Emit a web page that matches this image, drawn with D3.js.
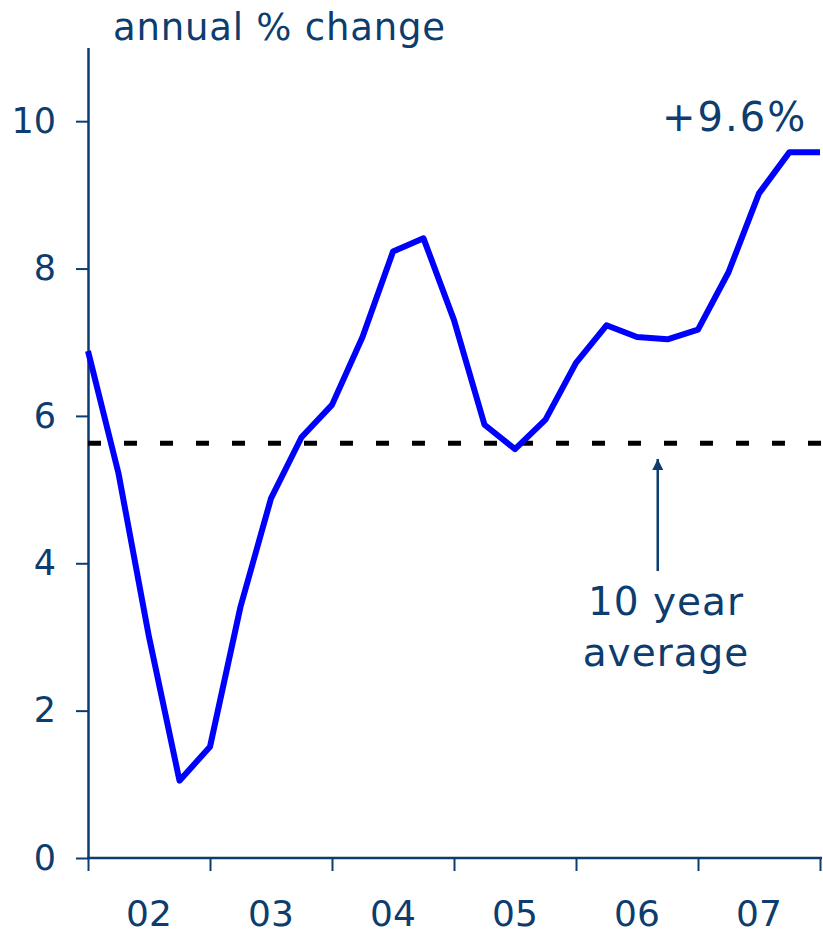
<!DOCTYPE html>
<html>
<head>
<meta charset="utf-8">
<script src="https://cdn.jsdelivr.net/npm/d3@7"></script>
<style>
  html, body { margin: 0; padding: 0; background: #ffffff; }
  svg { display: block; font-family: "DejaVu Sans", Verdana, sans-serif; }
</style>
</head>
<body>
<svg id="chart" width="823" height="933"></svg>
<script>
// ---- data ----
const quarters = [
  "2002Q1","2002Q2","2002Q3","2002Q4",
  "2003Q1","2003Q2","2003Q3","2003Q4",
  "2004Q1","2004Q2","2004Q3","2004Q4",
  "2005Q1","2005Q2","2005Q3","2005Q4",
  "2006Q1","2006Q2","2006Q3","2006Q4",
  "2007Q1","2007Q2","2007Q3","2007Q4",
  "2008Q1"
];
const growth = [
  6.88, 5.22, 3.0, 1.05,
  1.51, 3.41, 4.88, 5.71,
  6.15, 7.07, 8.23, 8.41,
  7.30, 5.88, 5.55, 5.95,
  6.72, 7.23, 7.07, 7.04,
  7.17, 7.95, 9.02, 9.58,
  9.58
];
const tenYearAverage = 5.63;
const yearTicks = [2002, 2003, 2004, 2005, 2006, 2007, 2008];
const yearLabels = ["02", "03", "04", "05", "06", "07"];
const yTicks = [0, 2, 4, 6, 8, 10];
const yTitle = "annual % change";
const lastLabel = "+9.6%";
const avgLabel = ["10 year", "average"];

// ---- helpers ----
const navy = "#0d3c6e";
const toYear = q => +q.slice(0, 4) + (+q.slice(5) - 1) / 4;

const svg = d3.select("#chart");
const x = d3.scaleLinear().domain([2002, 2008]).range([88, 820]);
const y = d3.scaleLinear().domain([0, 11]).range([858, 47.5]);

// ---- y axis ----
const yAxis = svg.append("g").attr("transform", "translate(88,0)")
  .call(d3.axisLeft(y).tickValues(yTicks).tickSize(12).tickPadding(20).tickSizeOuter(0));
yAxis.select(".domain").attr("stroke", navy).attr("stroke-width", 2.5);
yAxis.selectAll(".tick line").attr("stroke", navy).attr("stroke-width", 2);
yAxis.selectAll(".tick text")
  .attr("fill", navy).style("font-size", "35px")
  .style("font-family", "'DejaVu Sans', Verdana, sans-serif");

// ---- x axis ----
const xAxis = svg.append("g").attr("transform", "translate(0,858)")
  .call(d3.axisBottom(x).tickValues(yearTicks).tickSize(13).tickFormat("").tickSizeOuter(0));
xAxis.select(".domain").attr("stroke", navy).attr("stroke-width", 2.5)
  .attr("d", `M${x(2002) - 1},0H${x(2008) + 2}`);
xAxis.selectAll(".tick line").attr("stroke", navy).attr("stroke-width", 2);

svg.append("g").selectAll("text")
  .data(yearLabels)
  .join("text")
  .attr("x", (d, i) => x(yearTicks[i] + 0.5))
  .attr("y", 926)
  .attr("text-anchor", "middle")
  .attr("fill", navy)
  .style("font-size", "36px")
  .text(d => d);

// ---- title ----
svg.append("text")
  .attr("x", 113).attr("y", 40)
  .attr("fill", navy)
  .style("font-size", "37px")
  .style("letter-spacing", "0.8px")
  .text(yTitle);

// ---- 10 year average dashed line ----
svg.append("line")
  .attr("x1", x(2002)).attr("x2", x(2008) + 2)
  .attr("y1", y(tenYearAverage)).attr("y2", y(tenYearAverage))
  .attr("stroke", "#000").attr("stroke-width", 5)
  .attr("stroke-dasharray", "13,23");

// ---- series line ----
const pts = quarters.map((q, i) => ({ t: toYear(q), v: growth[i] }));
const line = d3.line().x(d => x(d.t)).y(d => y(d.v));
svg.append("path")
  .datum(pts)
  .attr("d", line)
  .attr("fill", "none")
  .attr("stroke", "#0000ff")
  .attr("stroke-width", 6)
  .attr("stroke-linejoin", "round");

// ---- annotations ----
svg.append("text")
  .attr("x", 662).attr("y", 131)
  .attr("fill", navy)
  .style("font-size", "40px")
  .style("letter-spacing", "2px")
  .text(lastLabel);

const ax = x(2006.67);
svg.append("defs").append("marker")
  .attr("id", "arrow").attr("viewBox", "0 0 10 10")
  .attr("refX", 10).attr("refY", 5)
  .attr("markerWidth", 5).attr("markerHeight", 4.4)
  .attr("markerUnits", "strokeWidth")
  .attr("orient", "auto")
  .append("path").attr("d", "M0,0L10,5L0,10Z").attr("fill", navy);
svg.append("line")
  .attr("x1", ax).attr("x2", ax)
  .attr("y1", 571).attr("y2", 459)
  .attr("stroke", navy).attr("stroke-width", 2.5)
  .attr("marker-end", "url(#arrow)");

svg.append("g").selectAll("text")
  .data(avgLabel)
  .join("text")
  .attr("x", 666)
  .attr("y", (d, i) => 615 + i * 51)
  .attr("text-anchor", "middle")
  .attr("fill", navy)
  .style("font-size", "39px")
  .style("letter-spacing", "1px")
  .text(d => d);
</script>
</body>
</html>
